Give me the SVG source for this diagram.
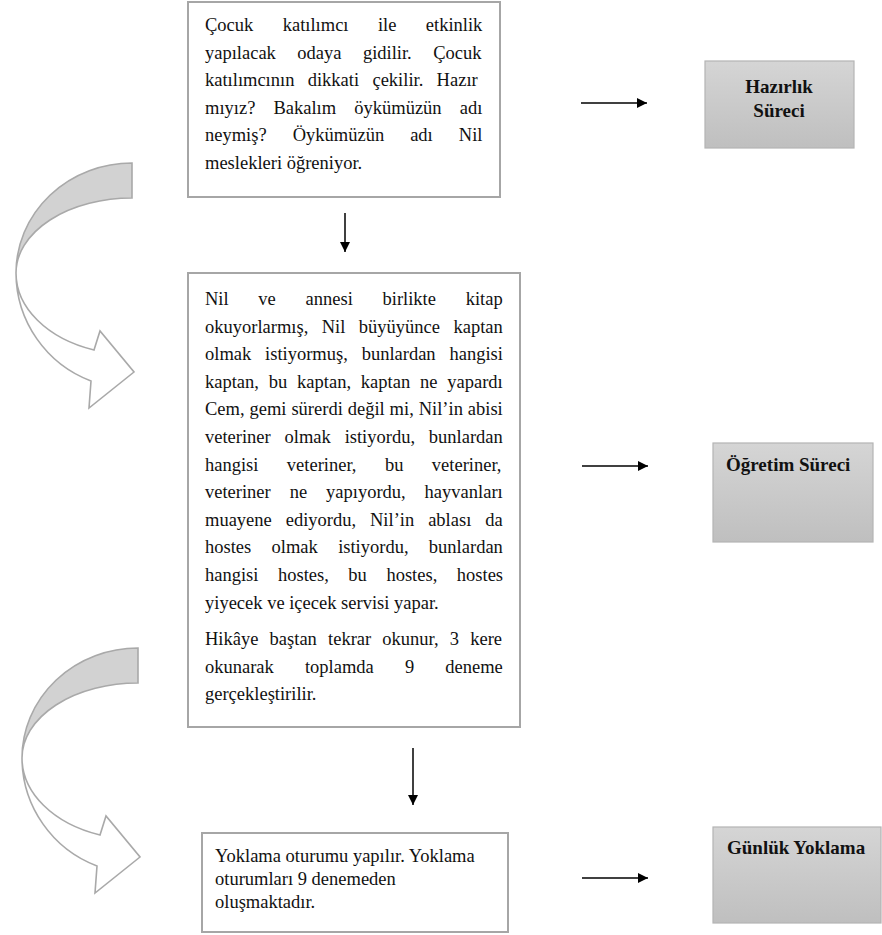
<svg xmlns="http://www.w3.org/2000/svg" width="882" height="935" viewBox="0 0 882 935">
<style>
.box{fill:#fff;stroke:#a6a6a6;stroke-width:2}
.gbox{fill:url(#gg);stroke:#b4b4b4;stroke-width:1.2}
.t{font-family:"Liberation Serif","Times New Roman",serif;font-size:18.5px;fill:#111}
.b{font-weight:bold;font-size:19px}
.conn{stroke:#000;stroke-width:1.5;fill:none;marker-end:url(#ah)}
.band{fill:#d2d2d2;stroke:#a9a9a9;stroke-width:1.6}
.front{fill:#fff;stroke:#a9a9a9;stroke-width:1.6}
</style>
<defs>
<linearGradient id="gg" x1="0" y1="0" x2="0" y2="1">
<stop offset="0" stop-color="#d5d5d5"/>
<stop offset="1" stop-color="#bfbfbf"/>
</linearGradient>
<marker id="ah" markerWidth="11" markerHeight="10" refX="10" refY="5" orient="auto" markerUnits="userSpaceOnUse">
<path d="M0,0 L10,5 L0,10 z" fill="#000"/>
</marker>
<g id="carrow">
<path class="front" d="M22,758 A116,81.5 0 0 0 100,835 L106,816 L140,857 L95,893 L97,866 A116,116 0 0 1 22,758 Z"/>
<path class="band" d="M138,648 A116,110 0 0 0 22,758 A116,75 0 0 1 138,683 Z"/>
</g>
</defs>

<g id="connectors">
<use href="#carrow" transform="translate(-6,-485)"/>
<use href="#carrow"/>
<line class="conn" x1="345" y1="213" x2="345" y2="252"/>
<line class="conn" x1="413" y1="748" x2="413" y2="805"/>
<line class="conn" x1="581" y1="103" x2="647" y2="103"/>
<line class="conn" x1="582" y1="466" x2="648" y2="466"/>
<line class="conn" x1="582" y1="878" x2="648" y2="878"/>
</g>

<g id="n1">
<rect class="box" x="188" y="2" width="312" height="195"/>
<text class="t" x="205" y="31" style="word-spacing:24.8px">Çocuk katılımcı ile etkinlik</text>
<text class="t" x="205" y="58.6" style="word-spacing:16.8px">yapılacak odaya gidilir. Çocuk</text>
<text class="t" x="205" y="86.2" style="word-spacing:8.7px">katılımcının dikkati çekilir. Hazır</text>
<text class="t" x="205" y="113.8" style="word-spacing:13.5px">mıyız? Bakalım öykümüzün adı</text>
<text class="t" x="205" y="141.4" style="word-spacing:21.4px">neymiş? Öykümüzün adı Nil</text>
<text class="t" x="205" y="169">meslekleri öğreniyor.</text>
</g>

<g id="n2">
<rect class="box" x="188" y="273" width="332" height="454"/>
<text class="t" x="205" y="305" style="word-spacing:25.1px">Nil ve annesi birlikte kitap</text>
<text class="t" x="205" y="332.6" style="word-spacing:8.85px">okuyorlarmış, Nil büyüyünce kaptan</text>
<text class="t" x="205" y="360.2" style="word-spacing:9.2px">olmak istiyormuş, bunlardan hangisi</text>
<text class="t" x="205" y="387.8" style="word-spacing:5.2px">kaptan, bu kaptan, kaptan ne yapardı</text>
<text class="t" x="205" y="415.4" style="word-spacing:0.3px">Cem, gemi sürerdi değil mi, Nil’in abisi</text>
<text class="t" x="205" y="443" style="word-spacing:9.2px">veteriner olmak istiyordu, bunlardan</text>
<text class="t" x="205" y="470.6" style="word-spacing:23.8px">hangisi veteriner, bu veteriner,</text>
<text class="t" x="205" y="498.2" style="word-spacing:14.3px">veteriner ne yapıyordu, hayvanları</text>
<text class="t" x="205" y="525.8" style="word-spacing:9.3px">muayene ediyordu, Nil’in ablası da</text>
<text class="t" x="205" y="553.4" style="word-spacing:15.7px">hostes olmak istiyordu, bunlardan</text>
<text class="t" x="205" y="581" style="word-spacing:14.9px">hangisi hostes, bu hostes, hostes</text>
<text class="t" x="205" y="608.6">yiyecek ve içecek servisi yapar.</text>
<text class="t" x="205" y="645" style="word-spacing:6.55px">Hikâye baştan tekrar okunur, 3 kere</text>
<text class="t" x="205" y="672.6" style="word-spacing:26.5px">okunarak toplamda 9 deneme</text>
<text class="t" x="205" y="700.2">gerçekleştirilir.</text>
</g>

<g id="n3">
<rect class="box" x="202" y="833" width="306" height="99"/>
<text class="t" x="215" y="862">Yoklama oturumu yapılır. Yoklama</text>
<text class="t" x="215" y="885">oturumları 9 denemeden</text>
<text class="t" x="215" y="907.5">oluşmaktadır.</text>
</g>

<g id="hazirlik">
<rect class="gbox" x="705" y="61" width="149" height="87"/>
<text class="t b" x="779" y="93" text-anchor="middle">Hazırlık</text>
<text class="t b" x="779" y="117" text-anchor="middle">Süreci</text>
</g>

<g id="ogretim">
<rect class="gbox" x="713" y="443" width="160" height="99"/>
<text class="t b" x="726" y="471">Öğretim Süreci</text>
</g>

<g id="gunluk">
<rect class="gbox" x="713" y="827" width="168" height="96"/>
<text class="t b" x="727" y="854">Günlük Yoklama</text>
</g>
</svg>
